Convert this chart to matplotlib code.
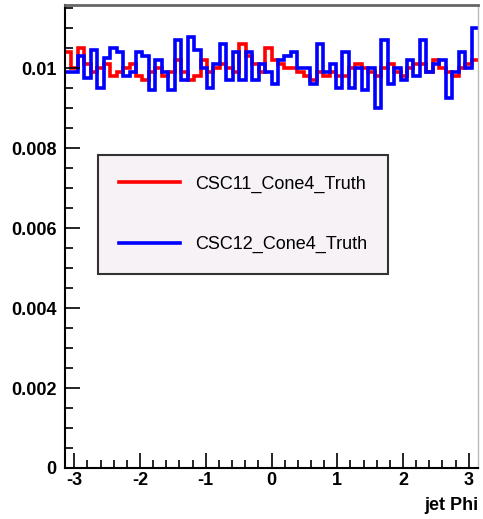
import matplotlib
matplotlib.use("Agg")
import matplotlib.pyplot as plt
import numpy as np

plt.rcParams['font.family'] = ['Liberation Sans', 'DejaVu Sans']
plt.rcParams['axes.unicode_minus'] = False

# jet phi histogram, 64 bins over [-pi, pi], normalised
n_bins = 64
phi_min, phi_max = -np.pi, np.pi

csc11 = [0.0104, 0.0100, 0.0105, 0.0101, 0.0099, 0.0100, 0.0101, 0.0098,
         0.0099, 0.0100, 0.0101, 0.0098, 0.0097, 0.0099, 0.0100, 0.0098,
         0.0099, 0.0102, 0.0099, 0.0097, 0.0098, 0.0102, 0.0099, 0.0100,
         0.0101, 0.0100, 0.0099, 0.0106, 0.0103, 0.0101, 0.0099, 0.0105,
         0.0102, 0.0101, 0.0100, 0.0100, 0.0099, 0.0098, 0.0097, 0.0099,
         0.0098, 0.0099, 0.0098, 0.0098, 0.0100, 0.0101, 0.0100, 0.0099,
         0.0098, 0.0100, 0.0101, 0.0099, 0.0098, 0.0100, 0.0101, 0.0101,
         0.0099, 0.0102, 0.0100, 0.0099, 0.0098, 0.0100, 0.0101, 0.0102]

csc12 = [0.0099, 0.0099, 0.0103, 0.00975, 0.01045, 0.0095, 0.01025, 0.0105,
         0.0104, 0.0098, 0.0099, 0.0104, 0.0103, 0.00945, 0.0102, 0.0099,
         0.00945, 0.0107, 0.0097, 0.01078, 0.01045, 0.0100, 0.0095, 0.0101,
         0.0106, 0.0097, 0.0104, 0.0097, 0.0104, 0.0097, 0.0101, 0.0099,
         0.0096, 0.0102, 0.0103, 0.0104, 0.0100, 0.0100, 0.0096, 0.0106,
         0.0099, 0.0101, 0.0095, 0.0104, 0.0095, 0.0100, 0.00945, 0.0100,
         0.0090, 0.0107, 0.0096, 0.0100, 0.0097, 0.0102, 0.0098, 0.0107,
         0.0099, 0.0101, 0.0102, 0.00925, 0.0099, 0.0104, 0.0100, 0.0110]

labels = ['CSC11_Cone4_Truth', 'CSC12_Cone4_Truth']
y_ticks = [0, 0.002, 0.004, 0.006, 0.008, 0.01]
y_tick_labels = ['0', '0.002', '0.004', '0.006', '0.008', '0.01']
x_ticks = [-3, -2, -1, 0, 1, 2, 3]

edges = np.linspace(phi_min, phi_max, n_bins + 1)

fig = plt.figure(figsize=(4.83, 5.19), dpi=100)
ax = fig.add_axes([65 / 483, 1 - 468 / 519, 413 / 483, 463 / 519])

ax.stairs(csc11, edges, baseline=None, color='#ff0000', linewidth=2.6, label=labels[0])
ax.stairs(csc12, edges, baseline=None, color='#0000ff', linewidth=2.6, label=labels[1])

ax.set_xlim(phi_min, phi_max)
ax.set_ylim(0, 0.01158)

ax.set_xticks(x_ticks)
ax.set_xticks(np.arange(-3, 3.01, 0.2), minor=True)
ax.set_yticks(y_ticks)
ax.set_yticklabels(y_tick_labels)
ax.set_yticks(np.arange(0, 0.0116, 0.0005), minor=True)

ax.tick_params(which='both', direction='in', top=False, right=False,
               labelsize=13, width=1.2)
ax.tick_params(which='major', length=11)
ax.tick_params(axis='y', which='major', pad=6)
ax.tick_params(axis='x', which='major', pad=3)
ax.tick_params(which='minor', length=6)
for lab in ax.get_xticklabels() + ax.get_yticklabels():
    lab.set_fontweight('bold')

ax.spines['left'].set_linewidth(1.5)
ax.spines['bottom'].set_linewidth(1.5)
ax.spines['top'].set_color('#666666')
ax.spines['top'].set_linewidth(2)
ax.spines['right'].set_color('#bbbbbb')
ax.spines['right'].set_linewidth(1)

ax.set_xlabel('jet Phi', loc='right', fontsize=13, fontweight='bold', labelpad=6)

leg = ax.legend(loc='upper left', bbox_to_anchor=(0.08, 0.676), fontsize=13,
                frameon=True, fancybox=False, edgecolor='#333333',
                facecolor='#f6f2f6', framealpha=1, handlelength=3.4,
                handletextpad=0.8, labelspacing=2.4, borderpad=1.15,
                borderaxespad=0)
leg.get_frame().set_linewidth(1.5)

plt.savefig('out.png', dpi=100)
